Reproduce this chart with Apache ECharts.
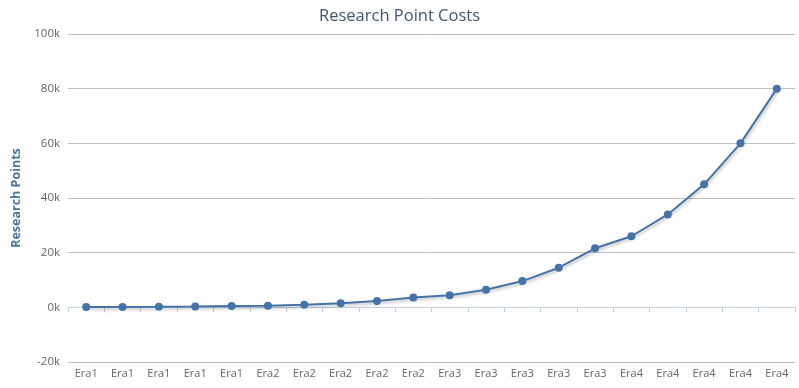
<!DOCTYPE html>
<html>
<head>
<meta charset="utf-8">
<script src="https://cdn.jsdelivr.net/npm/echarts@6/dist/echarts.min.js"></script>
<style>html,body{margin:0;padding:0;background:#fff}#c{width:799px;height:388px}</style>
</head>
<body>
<div id="c"></div>
<script>
var categories = ["Era1","Era1","Era1","Era1","Era1","Era2","Era2","Era2","Era2","Era2","Era3","Era3","Era3","Era3","Era3","Era4","Era4","Era4","Era4","Era4"];
var researchPoints = [100,150,200,300,450,600,900,1500,2300,3600,4400,6400,9600,14500,21600,26000,34000,45000,60000,80000];
var yMin = -20000, yMax = 100000, yStep = 20000;

var chart = echarts.init(document.getElementById('c'), null, {renderer:'canvas'});
chart.setOption({
  animation:false,
  textStyle:{fontFamily:'"Open Sans", sans-serif'},
  title:{text:'Research Point Costs',left:'center',top:3,
    textStyle:{fontSize:16.5,fontWeight:'normal',color:'#3E576F',fontFamily:'"Open Sans", sans-serif'}},
  grid:{left:68,right:4,top:34,bottom:26,containLabel:false},
  xAxis:{type:'category',data:categories,boundaryGap:true,
    axisLine:{lineStyle:{color:'#C0D0E0',width:1}},
    axisTick:{show:true,alignWithLabel:false,length:5,lineStyle:{color:'#C0D0E0'}},
    axisLabel:{color:'#666666',fontSize:11,margin:6,interval:0},
    splitLine:{show:false}},
  yAxis:{type:'value',min:yMin,max:yMax,interval:yStep,
    name:'Research Points',nameLocation:'middle',nameGap:43,nameRotate:90,
    nameTextStyle:{color:'#4d759e',fontWeight:'bold',fontSize:12.5},
    axisLine:{show:false},axisTick:{show:false},
    axisLabel:{color:'#666666',fontSize:11.5,margin:8,formatter:function(v){return (v/1000)+'k';}},
    splitLine:{lineStyle:{color:'#C0C0C0',width:1}}},
  series:[{type:'line',data:researchPoints,symbol:'circle',symbolSize:8,
    itemStyle:{color:'#4572A7'},
    lineStyle:{color:'#4572A7',width:2,shadowColor:'rgba(0,0,0,0.25)',shadowBlur:3,shadowOffsetX:1,shadowOffsetY:2}}]
});
</script>
</body>
</html>
